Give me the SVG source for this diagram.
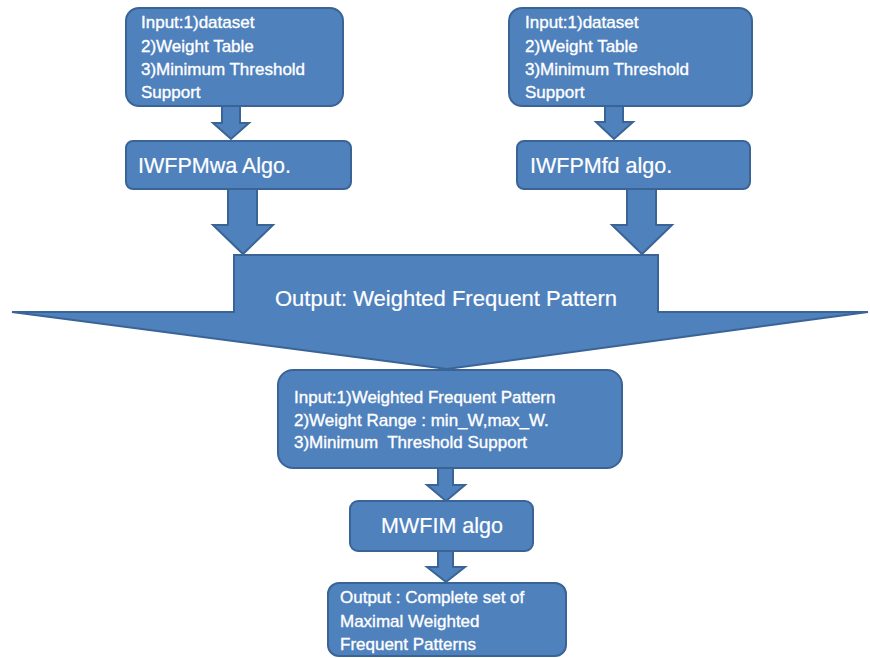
<svg xmlns="http://www.w3.org/2000/svg" width="870" height="658" viewBox="0 0 870 658">
<style>
.box{fill:#4F81BD;stroke:#3A6496;stroke-width:2}
.arr{fill:#4F81BD;stroke:#3A6496;stroke-width:2;stroke-linejoin:miter}
.t{font-family:"Liberation Sans",Arial,sans-serif;fill:#FFFFFF;stroke:#FFFFFF;stroke-width:0.35;font-size:17px;white-space:pre}
.tl{font-family:"Liberation Sans",Arial,sans-serif;fill:#FFFFFF;stroke:#FFFFFF;stroke-width:0.2;font-size:21.5px}
</style>
<rect width="870" height="658" fill="#FFFFFF"/>
<g id="connectors">
<polygon class="arr" points="222,106 240,106 240,123 249,123 231,139 213,123 222,123"/>
<polygon class="arr" points="605,106 623,106 623,122 633,122 614,139 596,122 605,122"/>
<polygon class="arr" points="228,189 257,189 257,225 273,225 243,254 213,225 228,225"/>
<polygon class="arr" points="627,189 656,189 656,225 672,225 642,254 612,225 627,225"/>
<polygon class="arr" points="438,468 453,468 453,485 465,485 446,501 427,485 438,485"/>
<polygon class="arr" points="438,551 453,551 453,567 465,567 446,582 427,567 438,567"/>
</g>
<g id="input-left">
<rect class="box" x="126" y="8" width="217" height="98" rx="13"/>
<text class="t" x="141" y="28">Input:1)dataset</text>
<text class="t" x="141" y="52">2)Weight Table</text>
<text class="t" x="141" y="75">3)Minimum Threshold</text>
<text class="t" x="141" y="98">Support</text>
</g>
<g id="iwfpmwa">
<rect class="box" x="126" y="141" width="225" height="48" rx="7"/>
<text class="tl" x="138" y="173">IWFPMwa Algo.</text>
</g>
<g id="input-right">
<rect class="box" x="509" y="8" width="243" height="98" rx="13"/>
<text class="t" x="525" y="28">Input:1)dataset</text>
<text class="t" x="525" y="52">2)Weight Table</text>
<text class="t" x="525" y="75">3)Minimum Threshold</text>
<text class="t" x="525" y="98">Support</text>
</g>
<g id="iwfpmfd">
<rect class="box" x="517" y="141" width="233" height="48" rx="7"/>
<text class="tl" x="530" y="173">IWFPMfd algo.</text>
</g>
<g id="output-wfp">
<polygon class="arr" points="234,255 658,255 658,312 868,312 447,369 12,312 234,312"/>
<text class="tl" x="446" y="306" text-anchor="middle" style="font-size:22px">Output: Weighted Frequent Pattern</text>
</g>
<g id="input-mwfim">
<rect class="box" x="278" y="370" width="344" height="98" rx="15"/>
<text class="t" x="294" y="403">Input:1)Weighted Frequent Pattern</text>
<text class="t" x="294" y="426">2)Weight Range : min_W,max_W.</text>
<text class="t" x="294" y="448">3)Minimum  Threshold Support</text>
</g>
<g id="mwfim">
<rect class="box" x="350" y="501" width="183" height="50" rx="8"/>
<text class="tl" x="442" y="533" text-anchor="middle">MWFIM algo</text>
</g>
<g id="output-final">
<rect class="box" x="328" y="583" width="238" height="73" rx="11"/>
<text class="t" x="340" y="603">Output : Complete set of</text>
<text class="t" x="340" y="627">Maximal Weighted</text>
<text class="t" x="340" y="650">Frequent Patterns</text>
</g>
</svg>
